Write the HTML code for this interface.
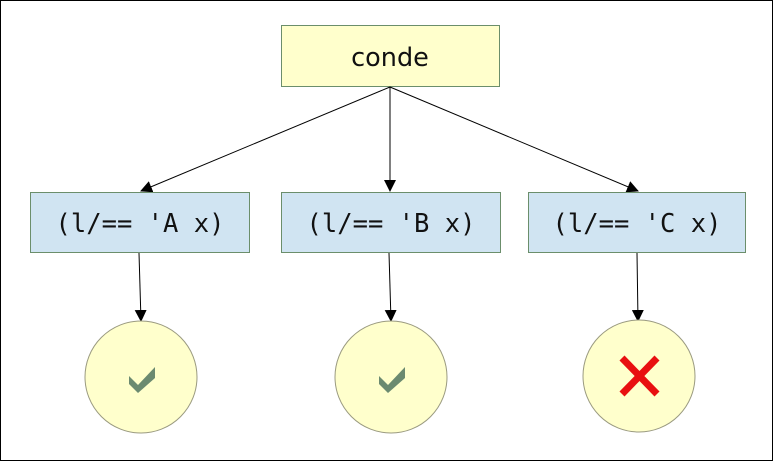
<!DOCTYPE html>
<html><head><meta charset="utf-8"><style>
html,body{margin:0;padding:0;background:#fff}
svg{display:block}
.mono{font-family:"DejaVu Sans Mono","Liberation Mono",monospace;font-size:25.5px;fill:#111}
</style></head><body>
<svg width="773" height="461" viewBox="0 0 773 461" xmlns="http://www.w3.org/2000/svg">
<defs>
<marker id="ah" markerWidth="12" markerHeight="12" refX="11" refY="6" orient="auto" markerUnits="userSpaceOnUse">
<path d="M0,0 L12,6 L0,12 Z" fill="#000"/>
</marker>
</defs>
<rect x="0.5" y="0.5" width="772" height="460" fill="#fff" stroke="#000"/>
<g>
<rect x="281.5" y="25.5" width="218" height="61" fill="#ffffcc" stroke="#6b8e6b"/>
<text x="390" y="66" text-anchor="middle" font-family="'DejaVu Sans','Liberation Sans',sans-serif" font-size="25.5" fill="#111">conde</text>
</g>
<g stroke="#000" stroke-width="1" fill="none">
<line x1="390" y1="87" x2="141" y2="191" marker-end="url(#ah)"/>
<line x1="390" y1="87" x2="390" y2="191" marker-end="url(#ah)"/>
<line x1="390" y1="87" x2="638" y2="191" marker-end="url(#ah)"/>
<line x1="139" y1="253" x2="141" y2="321" marker-end="url(#ah)"/>
<line x1="389" y1="253" x2="391" y2="321" marker-end="url(#ah)"/>
<line x1="637" y1="253" x2="638" y2="321" marker-end="url(#ah)"/>
</g>
<g>
<rect x="30.5" y="192.5" width="219" height="60" fill="#d0e4f2" stroke="#6b8e6b"/>
<text class="mono" x="140" y="232" text-anchor="middle">(l/== 'A x)</text>
</g>
<g>
<rect x="281.5" y="192.5" width="219" height="60" fill="#d0e4f2" stroke="#6b8e6b"/>
<text class="mono" x="391" y="232" text-anchor="middle">(l/== 'B x)</text>
</g>
<g>
<rect x="528.5" y="192.5" width="217" height="60" fill="#d0e4f2" stroke="#6b8e6b"/>
<text class="mono" x="637" y="232" text-anchor="middle">(l/== 'C x)</text>
</g>
<g>
<circle cx="141" cy="377" r="56" fill="#ffffcc" stroke="#9a9a80"/>
<path d="M129,376 L138,385 L155,367 L155,378 L138,393 L129,384 Z" fill="#6b8a70"/>
</g>
<g>
<circle cx="391" cy="377" r="56" fill="#ffffcc" stroke="#9a9a80"/>
<path d="M379,376 L388,385 L405,367 L405,378 L388,393 L379,384 Z" fill="#6b8a70"/>
</g>
<g>
<circle cx="639" cy="376" r="56" fill="#ffffcc" stroke="#9a9a80"/>
<g stroke="#e81010" stroke-width="7">
<line x1="622" y1="358" x2="657" y2="394"/>
<line x1="657" y1="358" x2="622" y2="394"/>
</g>
</g>
</svg>
</body></html>
